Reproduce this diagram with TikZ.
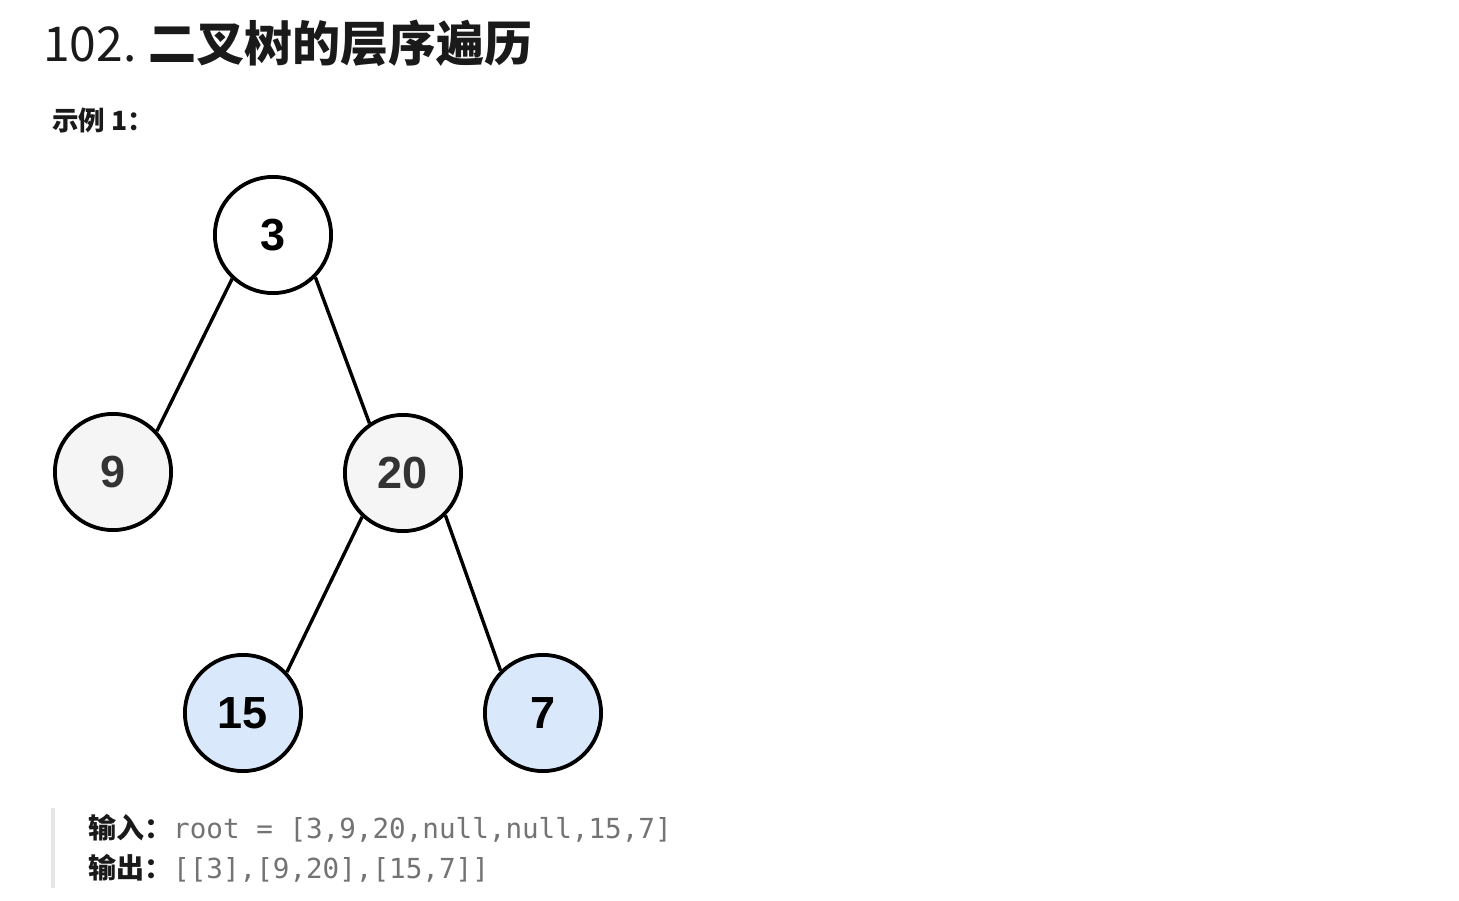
\documentclass[tikz,border=0pt]{standalone}
\usepackage{fontspec}
\setmainfont{Noto Sans CJK SC}
\setmonofont{DejaVu Sans Mono}
\newfontfamily\nodefont{Liberation Sans}
\definecolor{graynode}{HTML}{F5F5F5}
\definecolor{bluenode}{HTML}{DAE8FC}
\definecolor{codegray}{HTML}{737373}
\definecolor{quotebar}{HTML}{E5E5E5}
\definecolor{titleblack}{HTML}{1A1A1A}
\definecolor{numgray}{HTML}{333333}
\begin{document}
\begin{tikzpicture}[x=1pt,y=-1pt,
  treenode/.style={circle,draw=black,line width=3.8pt,minimum size=116.2pt,inner sep=0pt,
    font=\nodefont\bfseries\fontsize{45}{45}\selectfont},
  edge/.style={line width=3.4pt,draw=black},
  txt/.style={anchor=base west,inner sep=0pt,text=titleblack}]
\useasboundingbox[fill=white] (0,0) rectangle (1459,901);
% title
\node[txt,font=\fontsize{48}{50}\selectfont] (title) at (43,62) {102.\hspace{12pt}{\bfseries 二叉树的层序遍历}};
\node[txt,font=\bfseries\fontsize{26.5}{28}\selectfont] (example) at (52,131) {示例 1：};
% tree
\begin{scope}
\clip (0,150) rectangle (604,790);
\node[treenode,fill=white] (n3) at (273,235) {3};
\node[treenode,fill=graynode,text=numgray] (n9) at (113,472) {9};
\node[treenode,fill=graynode,text=numgray] (n20) at (403,473) {20};
\node[treenode,fill=bluenode] (n15) at (243,713) {15};
\node[treenode,fill=bluenode] (n7) at (543,713) {7};
\end{scope}
\draw[edge] (n3.227.5) -- (n9.43.7);
\draw[edge] (n3.-45) -- (n20.124.5);
\draw[edge] (n20.227.5) -- (n15.43.7);
\draw[edge] (n20.-45.6) -- (n7.135);
% input/output block
\coordinate (bartop) at (53,808);
\coordinate (barbot) at (53,888);
\draw[quotebar,line width=4pt] (bartop) -- (barbot);
\node[txt,font=\bfseries\fontsize{28}{30}\selectfont] (inlabel) at (88,838) {输入：};
\node[txt,font=\ttfamily\fontsize{27.6}{30}\selectfont,text=codegray] (incode) at (173,838) {root = [3,9,20,null,null,15,7]};
\node[txt,font=\bfseries\fontsize{28}{30}\selectfont] (outlabel) at (88,878) {输出：};
\node[txt,font=\ttfamily\fontsize{27.6}{30}\selectfont,text=codegray] (outcode) at (173,878) {[[3],[9,20],[15,7]]};
\end{tikzpicture}
\end{document}
